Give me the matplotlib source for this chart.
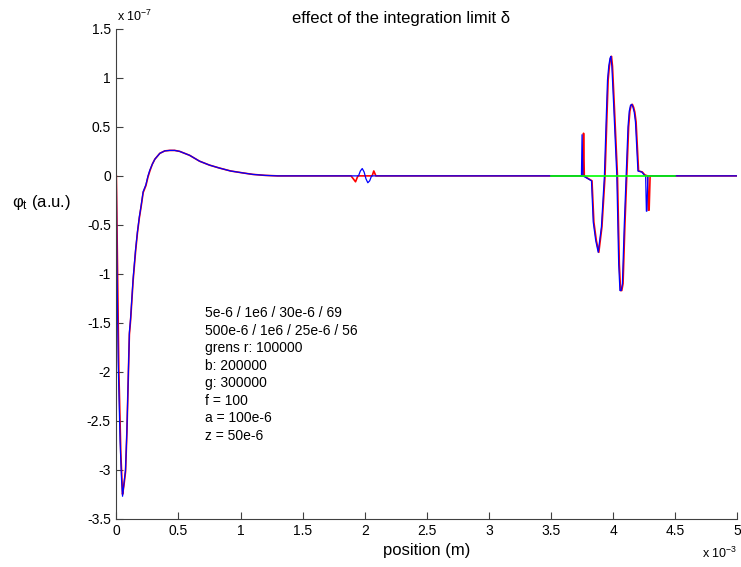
import matplotlib
matplotlib.use("Agg")
import matplotlib.pyplot as plt
from matplotlib.ticker import FuncFormatter, MultipleLocator

plt.rcParams['font.family'] = ['Liberation Sans', 'DejaVu Sans']
plt.rcParams['axes.unicode_minus'] = False
plt.rcParams['mathtext.fontset'] = 'custom'
plt.rcParams['mathtext.rm'] = 'Liberation Sans'

# positions in 1e-3 m, phi in 1e-7 a.u.
blue_x = [0, 0.005, 0.015, 0.03, 0.042, 0.05, 0.06, 0.074, 0.085, 0.095, 0.105,
          0.115, 0.125, 0.135, 0.145, 0.155, 0.17, 0.185, 0.2, 0.216, 0.238,
          0.255, 0.27, 0.29, 0.31, 0.35, 0.39, 0.43, 0.47, 0.51, 0.59, 0.67,
          0.75, 0.83, 0.92, 1.02, 1.1, 1.2, 1.3, 1.95, 1.965, 1.98, 1.995,
          2.01, 2.025, 2.04, 2.055,
          3.745, 3.75, 3.757, 3.785, 3.826, 3.84, 3.86, 3.88, 3.906, 3.93,
          3.945, 3.955, 3.965, 3.975, 3.982, 3.99, 4.005, 4.03, 4.045, 4.055,
          4.065, 4.075, 4.09, 4.105, 4.12, 4.13, 4.14, 4.15, 4.16, 4.17,
          4.18, 4.19, 4.2, 4.23, 4.25, 4.262, 4.268, 4.272, 4.28, 5.0]
blue_y = [0, -0.9, -1.9, -2.7, -3.1, -3.27, -3.15, -3.0, -2.6, -2.1, -1.6,
          -1.45, -1.25, -1.05, -0.9, -0.75, -0.57, -0.42, -0.3, -0.16, -0.09,
          0.0, 0.06, 0.12, 0.17, 0.23, 0.255, 0.26, 0.26, 0.25, 0.21, 0.15,
          0.11, 0.08, 0.05, 0.03, 0.015, 0.005, 0, 0, 0.05, 0.075, 0.04,
          -0.03, -0.07, -0.05, 0,
          0, 0.42, 0, -0.02, -0.05, -0.47, -0.66, -0.78, -0.52, 0.0,
          0.6, 0.98, 1.12, 1.2, 1.22, 1.12, 0.71, 0.0, -0.9, -1.17,
          -1.17, -1.1, -0.5, 0.0, 0.5, 0.66, 0.72, 0.73, 0.7, 0.65,
          0.55, 0.3, 0.05, 0.04, 0.01, 0.0, -0.36, -0.36, 0.0, 0]

red_x = [0, 0.005, 0.02, 0.036, 0.05, 0.06, 0.074, 0.085, 0.095, 0.105,
         0.115, 0.125, 0.135, 0.145, 0.155, 0.17, 0.185, 0.2, 0.216, 0.238,
         0.255, 0.27, 0.29, 0.31, 0.35, 0.39, 0.43, 0.47, 0.51, 0.59, 0.67,
         0.75, 0.83, 0.92, 1.02, 1.1, 1.2, 1.3, 1.89, 1.926, 1.945, 2.06,
         2.073, 2.09, 3.757, 3.762, 3.768, 3.79, 3.83, 3.845, 3.865, 3.885,
         3.91, 3.935, 3.95, 3.96, 3.97, 3.98, 3.987, 3.995, 4.01, 4.035,
         4.05, 4.06, 4.07, 4.08, 4.095, 4.11, 4.125, 4.135, 4.145, 4.155,
         4.165, 4.175, 4.185, 4.195, 4.205, 4.235, 4.255, 4.278, 4.284,
         4.29, 4.298, 5.0]
red_y = [0, -0.5, -1.98, -2.83, -3.25, -3.17, -3.02, -2.62, -2.12, -1.62,
         -1.47, -1.27, -1.07, -0.92, -0.77, -0.58, -0.43, -0.31, -0.17, -0.1,
         -0.01, 0.05, 0.12, 0.17, 0.23, 0.255, 0.26, 0.26, 0.25, 0.21, 0.15,
         0.11, 0.08, 0.05, 0.03, 0.015, 0.005, 0, 0, -0.06, 0, 0,
         0.05, 0, 0, 0.435, 0, -0.02, -0.05, -0.47, -0.66, -0.78,
         -0.52, 0.0, 0.6, 0.98, 1.12, 1.2, 1.22, 1.12, 0.71, 0.0,
         -0.9, -1.17, -1.17, -1.1, -0.5, 0.0, 0.5, 0.66, 0.72, 0.73,
         0.7, 0.65, 0.55, 0.3, 0.05, 0.04, 0.01, 0.0, -0.35,
         -0.35, 0.0, 0]

green_x = [3.5, 4.5]
green_y = [0, 0]

note_lines = ["5e-6 / 1e6 / 30e-6 / 69", "500e-6 / 1e6 / 25e-6 / 56",
              "grens r: 100000", "b: 200000", "g: 300000", "f = 100",
              "a = 100e-6", "z = 50e-6"]

fig = plt.figure(figsize=(7.41, 5.67), dpi=100)
ax = fig.add_axes([0.157, 0.085, 0.838, 0.864])

ax.plot(red_x, red_y, color='#ff0000', lw=1.2)
ax.plot(blue_x, blue_y, color='#0000ff', lw=0.9)
ax.plot(green_x, green_y, color='#00ff00', lw=1.2)

ax.set_xlim(0, 5)
ax.set_ylim(-3.5, 1.5)
ax.xaxis.set_major_locator(MultipleLocator(0.5))
ax.yaxis.set_major_locator(MultipleLocator(0.5))
fmt = FuncFormatter(lambda v, p: '%g' % round(v, 3))
ax.xaxis.set_major_formatter(fmt)
ax.yaxis.set_major_formatter(fmt)
ax.tick_params(direction='in', length=5, width=0.8, color='#404040',
               labelsize=10, pad=4)
for s in ['top', 'right']:
    ax.spines[s].set_visible(False)
for s in ['left', 'bottom']:
    ax.spines[s].set_color('#404040')
    ax.spines[s].set_linewidth(0.8)

ax.text(0.71, -1.33, "\n".join(note_lines), fontsize=10, va='top', ha='left',
        linespacing=1.32)

fig.text(401 / 741, 1 - 18 / 567, "effect of the integration limit \u03b4",
         fontsize=12, ha='center', va='center')
fig.text(117 / 741, 1 - 16 / 567, r"x 10$^{\mathregular{-7}}$", fontsize=9,
         ha='left', va='center')
fig.text(702 / 741, 1 - 553 / 567, r"x 10$^{\mathregular{-3}}$", fontsize=9,
         ha='left', va='center')
fig.text(427 / 741, 1 - 551 / 567, "position (m)", fontsize=12,
         ha='center', va='center')
fig.text(12 / 741, 1 - 203 / 567, r"$\mathregular{\varphi_t}$ (a.u.)",
         fontsize=12, ha='left', va='center')

fig.savefig("out.png", dpi=100)
